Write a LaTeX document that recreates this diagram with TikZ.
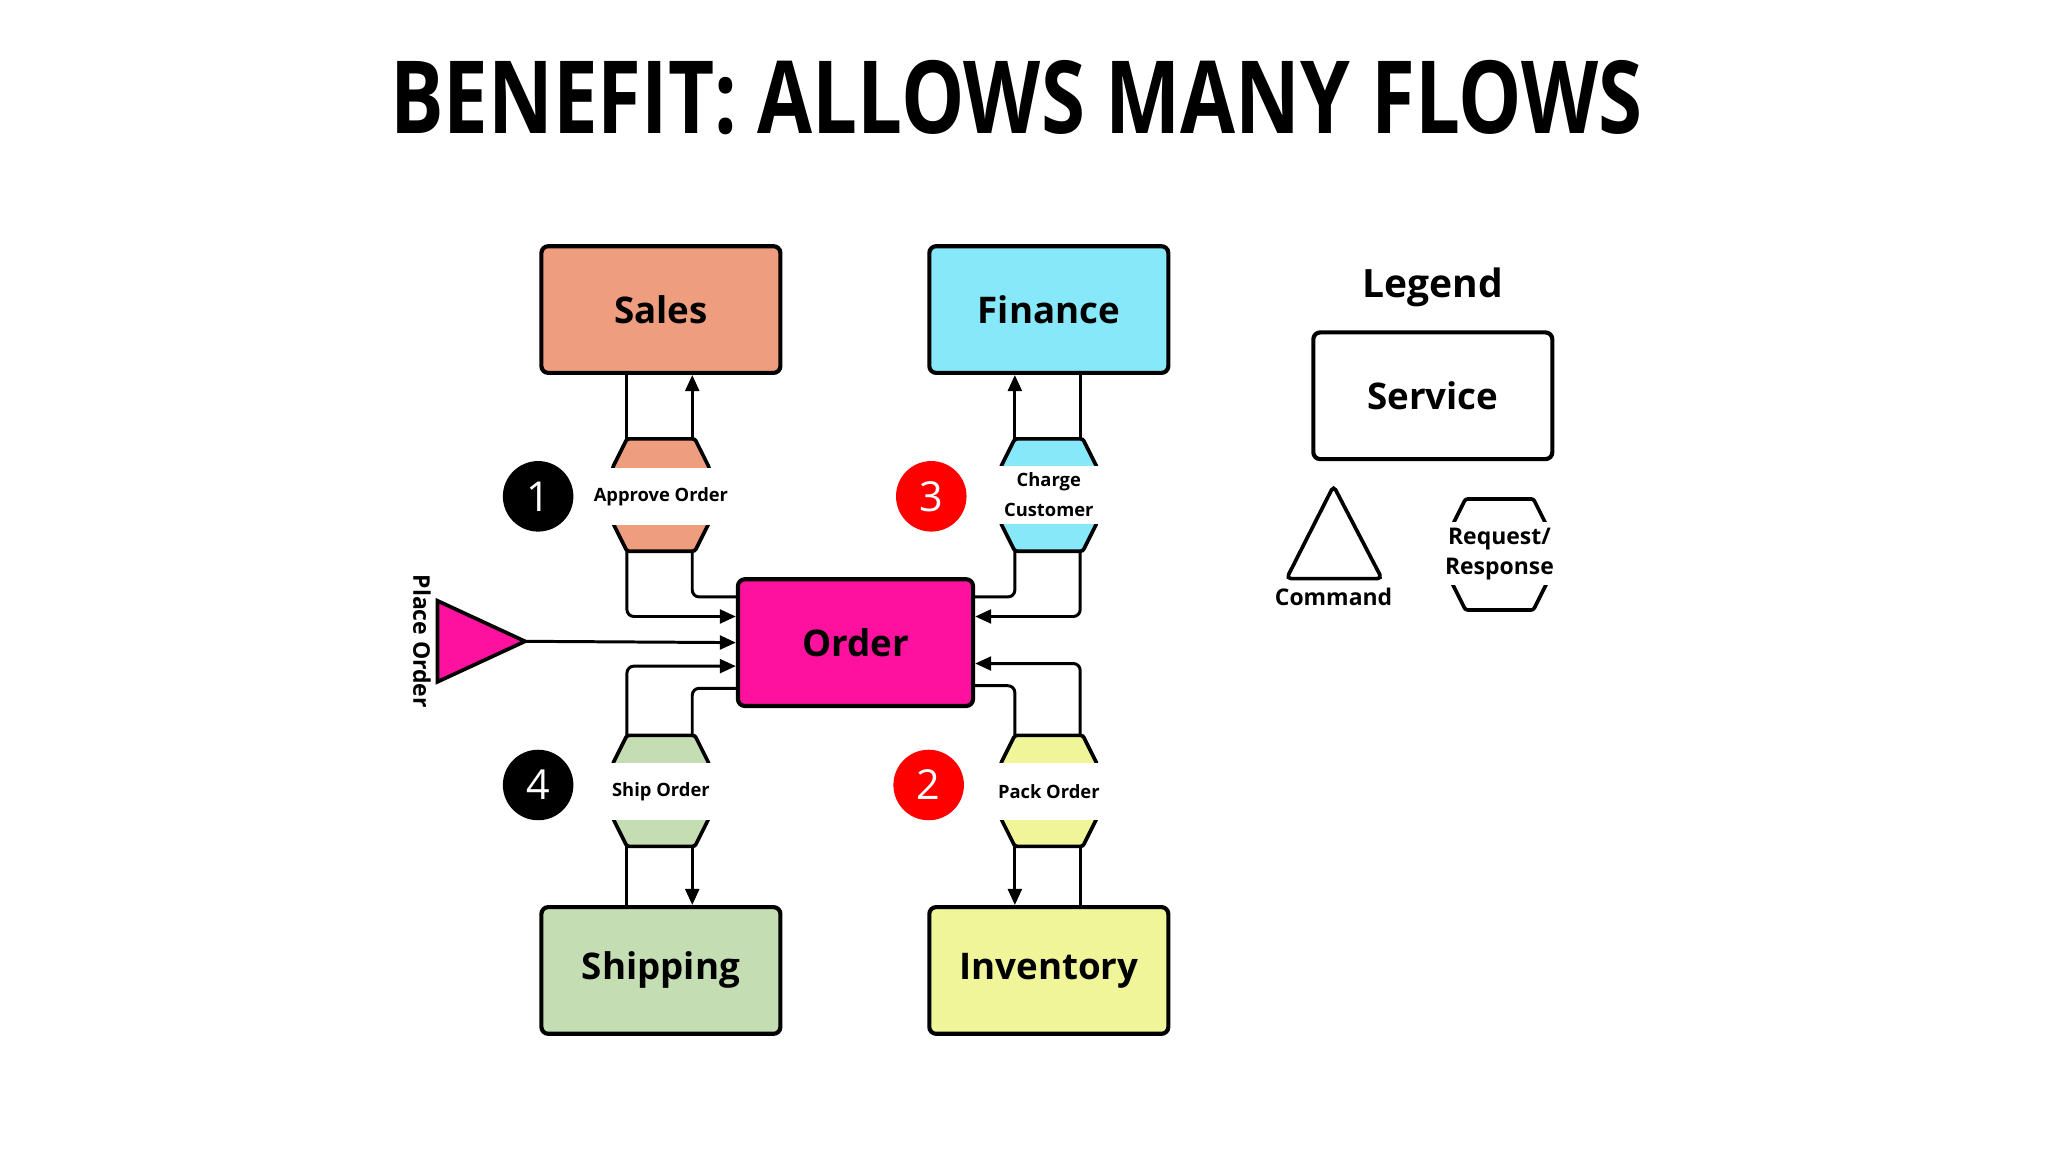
\documentclass[tikz,border=0pt]{standalone}
\usepackage{fontspec}
\setmainfont{Open Sans}
\usetikzlibrary{calc,arrows.meta}
\definecolor{salescol}{HTML}{EE9E7E}
\definecolor{fincol}{HTML}{86E8F8}
\definecolor{shipcol}{HTML}{C5DDB3}
\definecolor{invcol}{HTML}{F0F59A}
\definecolor{ordcol}{HTML}{FF11A0}
\newcommand{\hexa}[5]{% name, x, ytop, ybot, colour
  \filldraw[line width=1.6pt,fill=#5,rounded corners=1pt] (#2-26,#3) -- (#2+26,#3) -- (#2+37,#3+22) -- (#2+37,#4-22) -- (#2+26,#4) -- (#2-26,#4) -- (#2-37,#4-22) -- (#2-37,#3+22) -- cycle;
  \coordinate (#1-tl) at (#2-26,#3); \coordinate (#1-tr) at (#2+24,#3);
  \coordinate (#1-bl) at (#2-26,#4); \coordinate (#1-br) at (#2+24,#4);}
\begin{document}
\begin{tikzpicture}[x=0.02cm,y=-0.02cm,font=\bfseries,
    service/.style={draw,line width=1.8pt,rounded corners=3pt,minimum width=183*0.02cm,minimum height=97*0.02cm,font=\fontsize{16}{18}\selectfont\bfseries},
    band/.style={fill=white,inner sep=0pt,minimum width=120*0.02cm,minimum height=44*0.02cm,align=center,font=\fontsize{8}{13}\selectfont\bfseries},
    num/.style={circle,minimum size=54*0.02cm,inner sep=0pt,text=white,font=\fontsize{18}{18}\selectfont},
    flow/.style={line width=1.3pt,rounded corners=3pt},
    arr/.style={flow,-{Triangle[length=7pt,width=6pt]}}]
\useasboundingbox (0,0) rectangle (1568,882);
\node (title) at (778,75) {\fontsize{44}{44}\selectfont\scalebox{0.79}[1]{BENEFIT: ALLOWS MANY FLOWS}};
% services
\node[service,fill=salescol] (sales) at (506,237) {Sales};
\node[service,fill=fincol] (finance) at (803,237) {Finance};
\node[service,fill=shipcol] (shipping) at (506,743) {Shipping};
\node[service,fill=invcol] (inventory) at (803,743) {Inventory};
\node[service,fill=ordcol,minimum width=180*0.02cm] (order) at (655,492) {Order};
% request/response
\hexa{appr}{506}{336}{422}{salescol}
\hexa{charge}{803}{336}{422}{fincol}
\hexa{ship}{506}{563}{648}{shipcol}
\hexa{pack}{803}{563}{648}{invcol}
\node[band] (apprl) at (506,380) {Approve Order};
\node[band] (chargel) at (803,379) {Charge\\Customer};
\node[band] (shipl) at (506,606) {Ship Order};
\node[band] (packl) at (803,606) {Pack Order};
\node[num,fill=black] (n1) at (412,380) {1};
\node[num,fill=red] (n3) at (713,380) {3};
\node[num,fill=black] (n4) at (412,601) {4};
\node[num,fill=red] (n2) at (711,601) {2};
% connectors
\draw[flow] (appr-tl) -- (appr-tl |- sales.south);
\draw[arr] (appr-tr) -- (appr-tr |- sales.south);
\draw[arr] (appr-bl) |- ($(order.west)+(0,-20)$);
\draw[flow] (appr-br) |- ($(order.west)+(0,-35)$);
\draw[arr] (charge-tl) -- (charge-tl |- finance.south);
\draw[flow] (charge-tr) -- (charge-tr |- finance.south);
\draw[flow] (charge-bl) |- ($(order.east)+(0,-35)$);
\draw[arr] (charge-br) |- ($(order.east)+(0,-20)$);
\draw[arr] (ship-tl) |- ($(order.west)+(0,18)$);
\draw[flow] (ship-tr) |- ($(order.west)+(0,35)$);
\draw[flow] (ship-bl) -- (ship-bl |- shipping.north);
\draw[arr] (ship-br) -- (ship-br |- shipping.north);
\draw[flow] (pack-tl) |- ($(order.east)+(0,33)$);
\draw[arr] (pack-tr) |- ($(order.east)+(0,16)$);
\draw[arr] (pack-bl) -- (pack-bl |- inventory.north);
\draw[flow] (pack-br) -- (pack-br |- inventory.north);
% command
\filldraw[line width=1.6pt,fill=ordcol] (335,460) -- (402,491) coordinate (cmd) -- (335,522) -- cycle;
\draw[arr] (cmd) -- (order.west);
\node[rotate=-90,font=\fontsize{10}{10}\selectfont\bfseries] (placel) at (323,491) {Place Order};
% legend
\node[font=\fontsize{17}{17}\selectfont\bfseries] (legend) at (1097,220) {Legend};
\node[service] (lserv) at (1097,303) {Service};
\draw[line width=1.6pt,rounded corners=2pt] (1021,372) coordinate (ltri) -- (1058,443) -- (985,443) -- cycle;
\node[font=\fontsize{10}{10}\selectfont\bfseries] (lcmd) at (1021,457) {Command};
\hexa{lrr}{1148}{382}{467}{white}
\node[band,minimum width=110*0.02cm,minimum height=48*0.02cm,font=\fontsize{10}{13}\selectfont\bfseries] (lrrl) at (1148,424) {Request/\\Response};
\end{tikzpicture}
\end{document}
